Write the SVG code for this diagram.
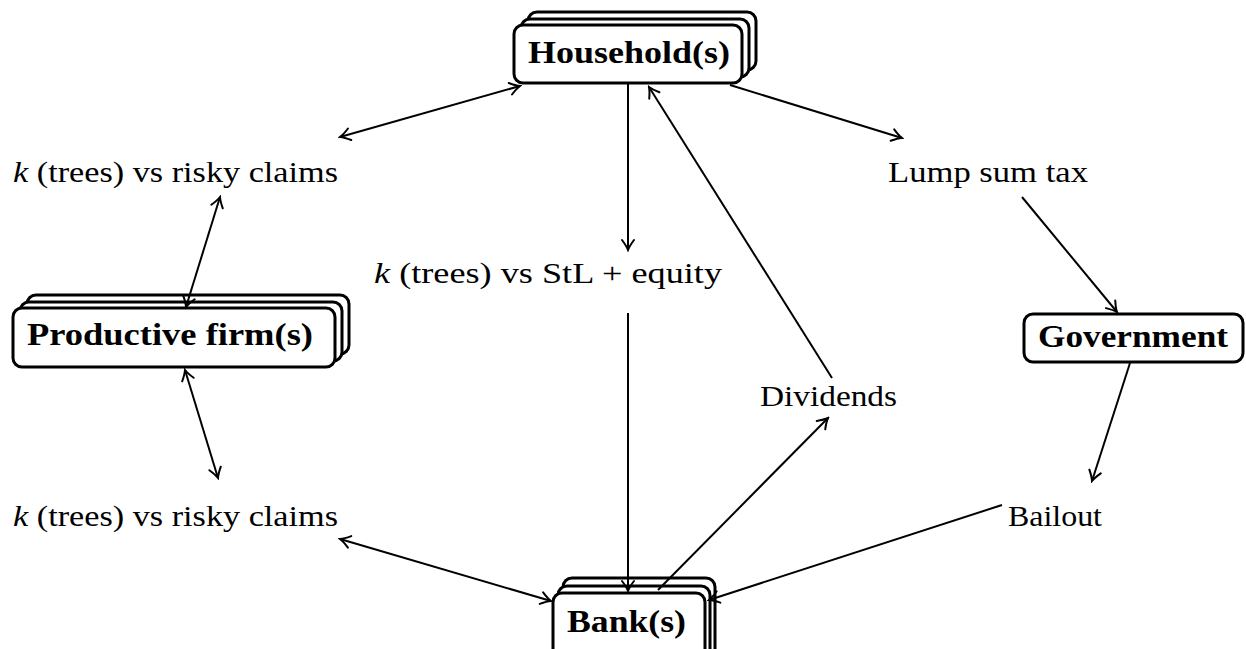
<svg xmlns="http://www.w3.org/2000/svg" width="1246" height="649" viewBox="0 0 1246 649">
<style>
.box{fill:#fff;stroke:#000;stroke-width:3}
.bt{font-family:'Liberation Serif','Times New Roman',Tinos,serif;font-weight:bold;font-size:31px;fill:#000}
.lt{font-family:'Liberation Serif','Times New Roman',Tinos,serif;font-size:30px;fill:#000}
.it{font-style:italic}
.c{fill:none;stroke:#000;stroke-width:2}
</style>
<defs>
<marker id="ah" viewBox="-12 -8 14 16" refX="0" refY="0" markerWidth="14" markerHeight="16" markerUnits="userSpaceOnUse" orient="auto-start-reverse">
<path d="M -10 -6 Q -4 -1.5 0 0 Q -4 1.5 -10 6" fill="none" stroke="#000" stroke-width="2" stroke-linecap="round"/>
</marker>
</defs>
<rect width="1246" height="649" fill="#fff"/>
<g id="household">
<rect class="box" x="528" y="12" width="228" height="58" rx="9"/>
<rect class="box" x="521" y="19" width="228" height="58" rx="9"/>
<rect class="box" x="514" y="25" width="228" height="58" rx="9"/>
<text class="bt" x="528" y="63" textLength="202" lengthAdjust="spacingAndGlyphs">Household(s)</text>
</g>
<g id="productive-firm">
<rect class="box" x="27" y="295" width="322" height="59" rx="9"/>
<rect class="box" x="20" y="302" width="322" height="59" rx="9"/>
<rect class="box" x="13" y="308" width="322" height="59" rx="9"/>
<text class="bt" x="27" y="345" textLength="286" lengthAdjust="spacingAndGlyphs">Productive firm(s)</text>
</g>
<g id="bank">
<rect class="box" x="563" y="578" width="152" height="90" rx="9"/>
<rect class="box" x="558" y="586" width="152" height="90" rx="9"/>
<rect class="box" x="553" y="593" width="152" height="90" rx="9"/>
<text class="bt" x="567" y="632" textLength="119" lengthAdjust="spacingAndGlyphs">Bank(s)</text>
</g>
<g id="government">
<rect class="box" x="1024" y="314" width="219" height="48" rx="9"/>
<text class="bt" x="1038" y="347" textLength="190" lengthAdjust="spacingAndGlyphs">Government</text>
</g>
<g id="label-claims-top">
<text class="lt" x="13" y="182" textLength="325" lengthAdjust="spacingAndGlyphs"><tspan class="it">k</tspan> (trees) vs risky claims</text>
</g>
<g id="label-stl">
<text class="lt" x="374" y="283" textLength="348" lengthAdjust="spacingAndGlyphs"><tspan class="it">k</tspan> (trees) vs StL + equity</text>
</g>
<g id="label-tax">
<text class="lt" x="888" y="182" textLength="200" lengthAdjust="spacingAndGlyphs">Lump sum tax</text>
</g>
<g id="label-dividends">
<text class="lt" x="760" y="406" textLength="137" lengthAdjust="spacingAndGlyphs">Dividends</text>
</g>
<g id="label-claims-bottom">
<text class="lt" x="13" y="526" textLength="325" lengthAdjust="spacingAndGlyphs"><tspan class="it">k</tspan> (trees) vs risky claims</text>
</g>
<g id="label-bailout">
<text class="lt" x="1008" y="526" textLength="94" lengthAdjust="spacingAndGlyphs">Bailout</text>
</g>
<g id="connectors">
<line class="c" x1="520" y1="86" x2="340" y2="137" marker-start="url(#ah)" marker-end="url(#ah)"/>
<line class="c" x1="628" y1="84" x2="628" y2="250" marker-end="url(#ah)"/>
<line class="c" x1="832" y1="378" x2="649" y2="87" marker-end="url(#ah)"/>
<line class="c" x1="730" y1="85" x2="902" y2="138" marker-end="url(#ah)"/>
<line class="c" x1="1022" y1="197" x2="1117" y2="312" marker-end="url(#ah)"/>
<line class="c" x1="1130" y1="363" x2="1092" y2="481" marker-end="url(#ah)"/>
<line class="c" x1="1002" y1="505" x2="709" y2="600" marker-end="url(#ah)"/>
<line class="c" x1="628" y1="313" x2="628" y2="591" marker-end="url(#ah)"/>
<line class="c" x1="658" y1="590" x2="828" y2="418" marker-end="url(#ah)"/>
<line class="c" x1="340" y1="539" x2="551" y2="601" marker-start="url(#ah)" marker-end="url(#ah)"/>
<line class="c" x1="220" y1="197" x2="186" y2="307" marker-start="url(#ah)" marker-end="url(#ah)"/>
<line class="c" x1="185" y1="370" x2="218" y2="478" marker-start="url(#ah)" marker-end="url(#ah)"/>
</g>
</svg>
